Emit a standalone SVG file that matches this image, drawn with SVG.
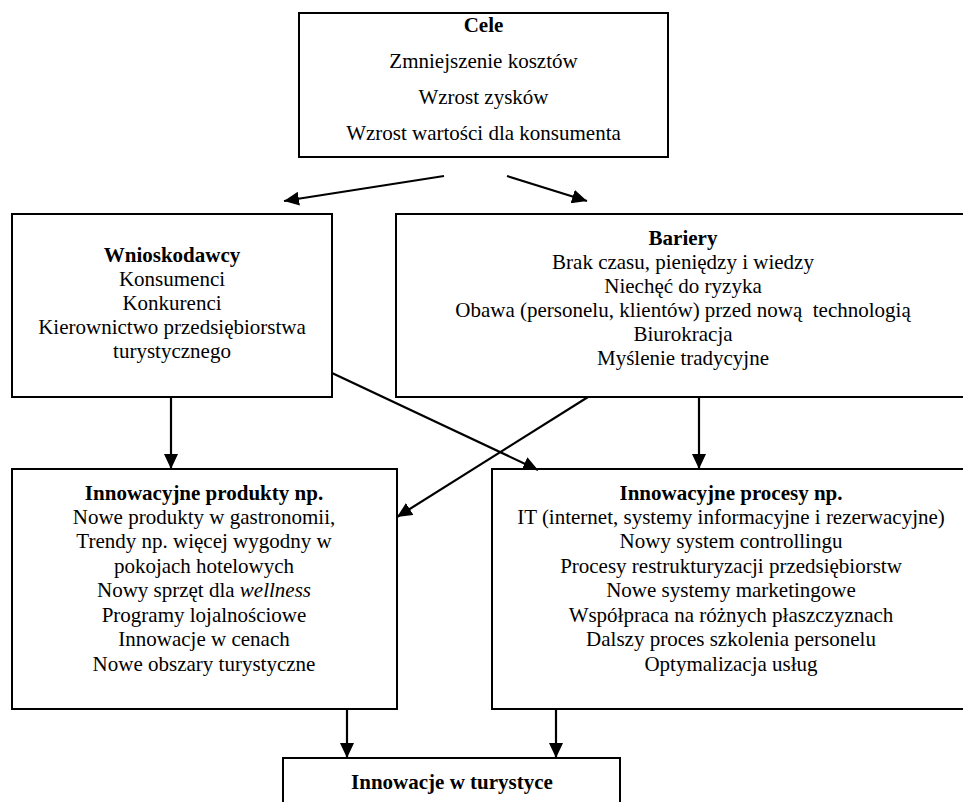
<svg xmlns="http://www.w3.org/2000/svg" width="963" height="802" viewBox="0 0 963 802">
<defs>
<style>
.box{fill:#fff;stroke:#000;stroke-width:2}
text{font-family:'Liberation Serif','Times New Roman',serif;font-size:21px;fill:#000;text-anchor:middle}
.b{font-weight:bold}
.con line{stroke:#000;stroke-width:2.2;fill:none}
</style>
<marker id="ah" markerUnits="userSpaceOnUse" markerWidth="16" markerHeight="14" refX="15" refY="7" orient="auto">
<path d="M0,0 L15,7 L0,14 Z" fill="#000"/>
</marker>
</defs>
<rect width="963" height="802" fill="#fff"/>

<g id="cele">
<rect class="box" x="299" y="13" width="369" height="144"/>
<text class="b" x="483.5" y="32">Cele</text>
<text x="483.5" y="68">Zmniejszenie kosztów</text>
<text x="483.5" y="104">Wzrost zysków</text>
<text x="483.5" y="140">Wzrost wartości dla konsumenta</text>
</g>

<g id="wnioskodawcy">
<rect class="box" x="12" y="214" width="320" height="183"/>
<text class="b" x="172" y="262">Wnioskodawcy</text>
<text x="172" y="286">Konsumenci</text>
<text x="172" y="310">Konkurenci</text>
<text x="172" y="334">Kierownictwo przedsiębiorstwa</text>
<text x="172" y="358">turystycznego</text>
</g>

<g id="bariery">
<rect class="box" x="396" y="214" width="580" height="183"/>
<text class="b" x="683" y="245">Bariery</text>
<text x="683" y="269">Brak czasu, pieniędzy i wiedzy</text>
<text x="683" y="293">Niechęć do ryzyka</text>
<text x="683" y="317" xml:space="preserve">Obawa (personelu, klientów) przed nową  technologią</text>
<text x="683" y="341">Biurokracja</text>
<text x="683" y="365">Myślenie tradycyjne</text>
</g>

<g id="produkty">
<rect class="box" x="12" y="469" width="385" height="240"/>
<text class="b" x="204" y="500">Innowacyjne produkty np.</text>
<text x="204" y="524">Nowe produkty w gastronomii,</text>
<text x="204" y="548">Trendy np. więcej wygodny w</text>
<text x="204" y="573">pokojach hotelowych</text>
<text x="204" y="597">Nowy sprzęt dla <tspan font-style="italic">wellness</tspan></text>
<text x="204" y="622">Programy lojalnościowe</text>
<text x="204" y="646">Innowacje w cenach</text>
<text x="204" y="671">Nowe obszary turystyczne</text>
</g>

<g id="procesy">
<rect class="box" x="492" y="469" width="490" height="240"/>
<text class="b" x="731" y="500">Innowacyjne procesy np.</text>
<text x="731" y="524">IT (internet, systemy informacyjne i rezerwacyjne)</text>
<text x="731" y="548">Nowy system controllingu</text>
<text x="731" y="573">Procesy restrukturyzacji przedsiębiorstw</text>
<text x="731" y="597">Nowe systemy marketingowe</text>
<text x="731" y="622">Współpraca na różnych płaszczyznach</text>
<text x="731" y="646">Dalszy proces szkolenia personelu</text>
<text x="731" y="671">Optymalizacja usług</text>
</g>

<g id="innowacje">
<rect class="box" x="283" y="758" width="337" height="60"/>
<text class="b" x="452" y="789">Innowacje w turystyce</text>
</g>

<g class="con" id="connectors">
<line x1="444" y1="176" x2="284" y2="201" marker-end="url(#ah)"/>
<line x1="507" y1="176" x2="587" y2="201" marker-end="url(#ah)"/>
<line x1="171" y1="397" x2="171" y2="469" marker-end="url(#ah)"/>
<line x1="699" y1="397" x2="699" y2="469" marker-end="url(#ah)"/>
<line x1="332" y1="373" x2="538" y2="470" marker-end="url(#ah)"/>
<line x1="588" y1="397" x2="397" y2="517" marker-end="url(#ah)"/>
<line x1="347" y1="709" x2="347" y2="758" marker-end="url(#ah)"/>
<line x1="556" y1="709" x2="556" y2="758" marker-end="url(#ah)"/>
</g>
</svg>
